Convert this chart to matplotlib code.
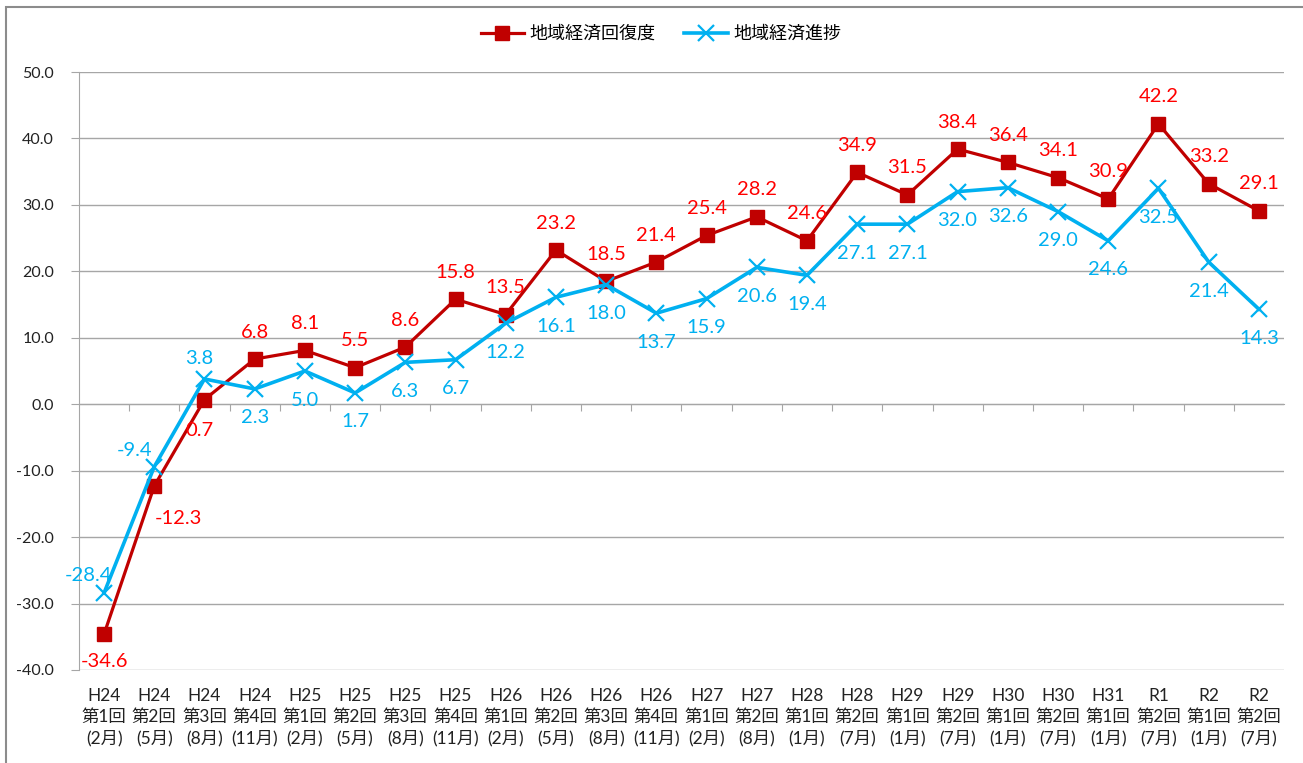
import matplotlib.pyplot as plt
from matplotlib.patches import Rectangle
from matplotlib.transforms import blended_transform_factory

plt.rcParams['font.family'] = ['Lato', 'Noto Sans CJK JP', 'DejaVu Sans']

years = ['H24', 'H24', 'H24', 'H24', 'H25', 'H25', 'H25', 'H25', 'H26', 'H26', 'H26', 'H26',
         'H27', 'H27', 'H28', 'H28', 'H29', 'H29', 'H30', 'H30', 'H31', 'R1', 'R2', 'R2']
rounds = ['第1回', '第2回', '第3回', '第4回', '第1回', '第2回', '第3回', '第4回', '第1回', '第2回', '第3回', '第4回',
          '第1回', '第2回', '第1回', '第2回', '第1回', '第2回', '第1回', '第2回', '第1回', '第2回', '第1回', '第2回']
months = ['(2月)', '(5月)', '(8月)', '(11月)', '(2月)', '(5月)', '(8月)', '(11月)', '(2月)', '(5月)', '(8月)', '(11月)',
          '(2月)', '(8月)', '(1月)', '(7月)', '(1月)', '(7月)', '(1月)', '(7月)', '(1月)', '(7月)', '(1月)', '(7月)']

recovery = [-34.6, -12.3, 0.7, 6.8, 8.1, 5.5, 8.6, 15.8, 13.5, 23.2, 18.5, 21.4,
            25.4, 28.2, 24.6, 34.9, 31.5, 38.4, 36.4, 34.1, 30.9, 42.2, 33.2, 29.1]
progress = [-28.4, -9.4, 3.8, 2.3, 5.0, 1.7, 6.3, 6.7, 12.2, 16.1, 18.0, 13.7,
            15.9, 20.6, 19.4, 27.1, 27.1, 32.0, 32.6, 29.0, 24.6, 32.5, 21.4, 14.3]

names = ['地域経済回復度', '地域経済進捗']

# label offsets in pixels (dx, dy), y up
red_off = [(0, -27), (24, -33), (-5, -31)] + [(0, 27)] * 21
blue_off = [(-16, 17), (-20, 16), (-5, 20)] + [(0, -29)] * 21

fig = plt.figure(figsize=(13.03, 7.63), dpi=100)
ax = fig.add_axes([0.0606, 0.1219, 0.9248, 0.7837])

x = list(range(len(recovery)))

ax.plot(x, recovery, color='#C00000', lw=2.3, marker='s', markersize=10,
        label=names[0], zorder=3)
ax.plot(x, progress, color='#00B0F0', lw=2.6, marker='x', markersize=11,
        markeredgewidth=1.6, label=names[1], zorder=4)

for i in x:
    ax.annotate('%.1f' % recovery[i], (i, recovery[i]), xytext=red_off[i],
                textcoords='offset pixels', ha='center', va='center',
                color='#FF0000', fontsize=14.5, zorder=5)
    ax.annotate('%.1f' % progress[i], (i, progress[i]), xytext=blue_off[i],
                textcoords='offset pixels', ha='center', va='center',
                color='#00B0F0', fontsize=14.5, zorder=5)

ax.set_xlim(-0.5, len(x) - 0.5)
ax.set_ylim(-40, 50)
ax.set_yticks(range(-40, 51, 10))
ax.set_yticklabels(['%.1f' % v for v in range(-40, 51, 10)], fontsize=11.5, color='#222222')
ax.grid(axis='y', color='#A6A6A6', lw=1)
ax.set_axisbelow(True)

for s in ['top', 'right']:
    ax.spines[s].set_visible(False)
ax.spines['left'].set_color('#A6A6A6')
ax.spines['bottom'].set_position(('data', 0))
ax.spines['bottom'].set_color('#A6A6A6')
ax.set_xticks([i + 0.5 for i in range(len(x) - 1)])
ax.set_xticklabels([])
ax.tick_params(axis='x', length=5, color='#A6A6A6', direction='out')
ax.tick_params(axis='y', length=6, color='#A6A6A6', pad=12)

trans = blended_transform_factory(ax.transData, ax.transAxes)
for i in x:
    ax.text(i, -0.03, years[i] + '\n' + rounds[i] + '\n' + months[i], transform=trans,
            ha='center', va='top', fontsize=12.5, color='#222222', linespacing=1.38)

ax.legend(loc='upper center', bbox_to_anchor=(0.483, 1.105), ncol=2, frameon=False,
          fontsize=13, handlelength=2.4, columnspacing=1.6, handletextpad=0.3)

fig.patches.append(Rectangle((6, -20), 1400, 763 - 7 + 20, transform=None,
                             fill=False, edgecolor='#8C8C8C', lw=1.5))

fig.savefig('out.png', dpi=100)
